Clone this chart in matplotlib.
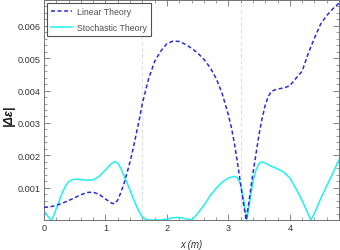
import matplotlib
matplotlib.use('Agg')
import matplotlib.pyplot as plt
from matplotlib.ticker import MultipleLocator, FixedLocator

plt.rcParams['font.family'] = ['Liberation Sans', 'DejaVu Sans']

# Linear theory (dashed blue), y in units of 1e-3
x_lin = [0.0, 0.1, 0.2, 0.3, 0.4, 0.5, 0.6, 0.7, 0.8, 0.9, 1.0, 1.1, 1.15,
         1.2, 1.25, 1.3, 1.35, 1.4, 1.45, 1.5, 1.55, 1.6, 1.7, 1.8, 1.9, 2.0,
         2.1, 2.2, 2.3, 2.4, 2.5, 2.6, 2.7, 2.8, 2.9, 3.0, 3.05, 3.1, 3.15,
         3.2, 3.25, 3.29, 3.33, 3.4, 3.45, 3.5, 3.55, 3.6, 3.65, 3.7, 3.8,
         3.9, 4.0, 4.1, 4.2, 4.3, 4.4, 4.5, 4.6, 4.7, 4.8]
y_lin = [0.39, 0.41, 0.45, 0.52, 0.60, 0.69, 0.78, 0.85, 0.86, 0.79, 0.65,
         0.52, 0.50, 0.62, 0.85, 1.12, 1.45, 1.8, 2.2, 2.65, 3.1, 3.6, 4.35,
         4.9, 5.22, 5.45, 5.53, 5.52, 5.43, 5.31, 5.16, 4.97, 4.72, 4.38,
         3.9, 3.25, 2.85, 2.35, 1.75, 1.1, 0.45, 0.0, 0.5, 1.45, 2.05, 2.65,
         3.15, 3.55, 3.82, 3.98, 4.05, 4.08, 4.15, 4.38, 4.6, 5.15, 5.62,
         6.05, 6.32, 6.53, 6.7]

# Stochastic theory (solid cyan), y in units of 1e-3
x_sto = [0.0, 0.05, 0.1, 0.12, 0.15, 0.2, 0.25, 0.3, 0.35, 0.4, 0.45, 0.5,
         0.6, 0.7, 0.8, 0.9, 1.0, 1.1, 1.15, 1.2, 1.25, 1.3, 1.35, 1.4, 1.45,
         1.5, 1.55, 1.6, 1.65, 1.7, 1.8, 1.9, 2.0, 2.1, 2.2, 2.3, 2.4, 2.5,
         2.6, 2.7, 2.8, 2.9, 3.0, 3.1, 3.15, 3.2, 3.25, 3.3, 3.35, 3.4, 3.45,
         3.5, 3.55, 3.6, 3.7, 3.8, 3.9, 4.0, 4.1, 4.2, 4.3, 4.34, 4.4, 4.5,
         4.6, 4.7, 4.8]
y_sto = [0.28, 0.15, 0.02, 0.0, 0.1, 0.35, 0.6, 0.85, 1.05, 1.18, 1.24,
         1.26, 1.25, 1.23, 1.24, 1.35, 1.55, 1.75, 1.8, 1.76, 1.6, 1.38,
         1.15, 0.92, 0.68, 0.45, 0.25, 0.1, 0.03, 0.0, 0.0, 0.0, 0.03, 0.07,
         0.08, 0.04, 0.0, 0.2, 0.45, 0.74, 0.98, 1.17, 1.3, 1.35, 1.3, 1.1,
         0.6, 0.0, 0.6, 1.2, 1.55, 1.75, 1.8, 1.76, 1.66, 1.58, 1.48, 1.3,
         0.97, 0.6, 0.18, 0.0, 0.2, 0.65, 1.05, 1.45, 1.86]

vlines = [1.6, 3.2]
x_ticks = [0, 1, 2, 3, 4]
y_ticks = [0.001, 0.002, 0.003, 0.004, 0.005, 0.006]

fig = plt.figure(figsize=(3.4, 2.51), dpi=100)
ax = fig.add_axes([44 / 340, 1 - 221 / 251, 295 / 340, 220 / 251])

for v in vlines:
    ax.axvline(v, color='0.88', lw=0.9, ls=(0, (3, 2)), zorder=1)

ax.plot(x_lin, [v * 1e-3 for v in y_lin], color='#2b2bd8', lw=1.1,
        ls=(0, (2.6, 1.7)), label='Linear Theory', zorder=3)
ax.plot(x_sto, [v * 1e-3 for v in y_sto], color='#1ff0f0', lw=1.1,
        label='Stochastic Theory', zorder=2)

ax.set_xlim(0, 4.8)
ax.set_ylim(0, 0.0068)

ax.xaxis.set_major_locator(FixedLocator(x_ticks))
ax.xaxis.set_minor_locator(MultipleLocator(0.2))
ax.yaxis.set_major_locator(FixedLocator(y_ticks))
ax.yaxis.set_minor_locator(MultipleLocator(0.0002))
ax.set_yticklabels(['0.001', '0.002', '0.003', '0.004', '0.005', '0.006'])

ax.tick_params(which='both', direction='in', top=True, right=True,
               colors='0.45', labelcolor='0.2', labelsize=6.6, pad=2.5)
ax.tick_params(which='major', length=4, width=0.6)
ax.tick_params(which='minor', length=2, width=0.5)
for s in ax.spines.values():
    s.set_color('0.45')
    s.set_linewidth(0.7)

# axis labels placed by hand, like the reference
fig.text(192 / 340, 1 - 245 / 251, 'x (m)', fontsize=7, fontstyle='italic',
         color='0.2', ha='center', va='center')
fig.text(9 / 340, 1 - 115 / 251, '|Δε|', fontsize=9, fontstyle='italic',
         fontweight='bold', color='0.1', ha='center', va='center', rotation=90)

leg = ax.legend(loc='upper left', fontsize=6.3, frameon=True, fancybox=False,
                edgecolor='0.15', handlelength=2.4, handletextpad=0.6,
                borderpad=0.45, labelspacing=0.85, borderaxespad=0.3)
leg.get_frame().set_linewidth(0.8)
for t in leg.get_texts():
    t.set_color('0.3')

fig.savefig('out.png', dpi=100)
